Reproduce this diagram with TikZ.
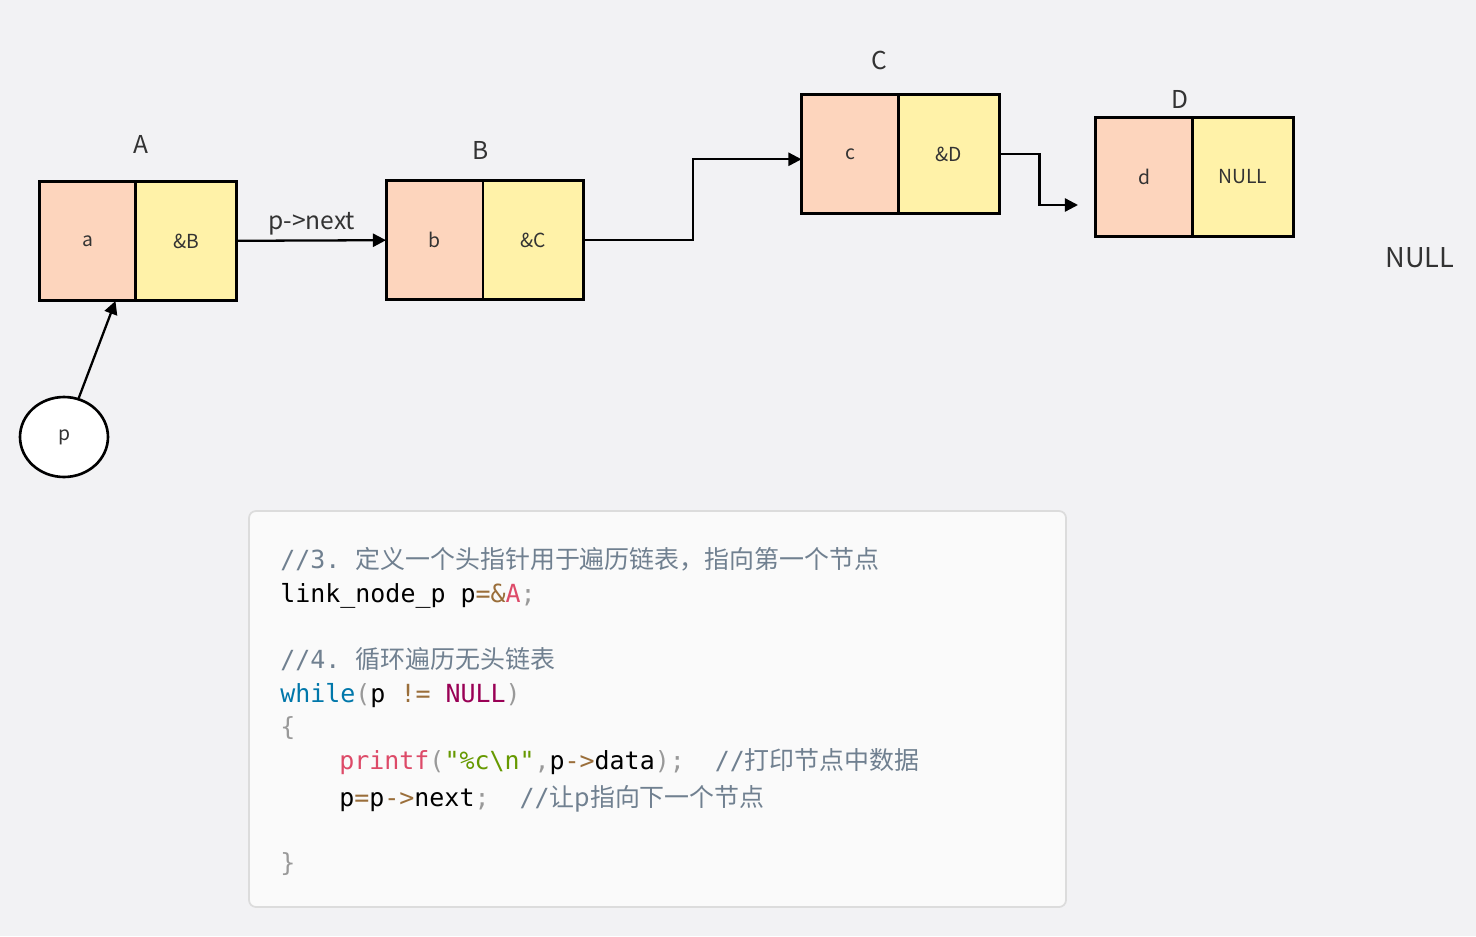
\documentclass[tikz,border=0pt]{standalone}
\usepackage{fontspec}
\setmainfont{Noto Sans CJK SC}
\setmonofont{DejaVu Sans Mono}
\newfontfamily\cjk{Noto Sans CJK SC}
\usepackage{xcolor}
\usetikzlibrary{arrows.meta, shapes.geometric, positioning}

\definecolor{bgcol}{HTML}{F2F2F4}
\definecolor{boxfill}{HTML}{FAFAFA}
\definecolor{boxline}{HTML}{DCDCDC}
\definecolor{datafill}{HTML}{FDD5BD}
\definecolor{nextfill}{HTML}{FFF2A8}
\definecolor{txtcol}{HTML}{333333}
\definecolor{cmtcol}{HTML}{708090}
\definecolor{kwcol}{HTML}{0077AA}
\definecolor{nullcol}{HTML}{990055}
\definecolor{opcol}{HTML}{9A6E3A}
\definecolor{fncol}{HTML}{DD4A68}
\definecolor{strcol}{HTML}{669900}
\definecolor{puncol}{HTML}{999999}

\begin{document}
\begin{tikzpicture}[x=0.02cm, y=-0.02cm,
  datacell/.style={draw, line width=1.7pt, fill=datafill, minimum width=1.94cm,
    minimum height=2.4cm, inner sep=0pt, outer sep=0pt,
    font=\fontsize{11}{13}\selectfont, text=txtcol},
  nextcell/.style={datacell, fill=nextfill, minimum width=2.02cm},
  lbl/.style={font=\fontsize{14}{16}\selectfont, text=txtcol},
  link/.style={line width=1.3pt, -{Triangle[length=7.5pt, width=7.5pt]}},
  codeline/.style={anchor=base west, inner sep=0pt, font=\ttfamily\fontsize{14.2}{17}\selectfont}]
  % Background and frame
  \useasboundingbox (0,0) rectangle (1476,936);
  \fill[bgcol] (0,0) rectangle (1476,936);
  \draw[boxline, fill=boxfill, rounded corners=4pt, line width=1pt] (249,511) rectangle (1066,907);
  % List nodes
  \node[datacell] (adata) at (87.5,241) {a};
  \node[nextcell, right=0pt of adata] (anext) {\&B};
  \node[datacell] (bdata) at (434.5,240) {b};
  \node[nextcell, right=0pt of bdata] (bnext) {\&C};
  \node[datacell] (cdata) at (850,154) {c};
  \node[nextcell, right=0pt of cdata] (cnext) {\&D};
  \node[datacell] (ddata) at (1144,177) {d};
  \node[nextcell, right=0pt of ddata] (dnext) {NULL};
  % Names
  \node[lbl] (la) at (141,144) {A};
  \node[lbl] (lb) at (481,150) {B};
  \node[lbl] (lc) at (879,60) {C};
  \node[lbl] (ld) at (1180,99) {D};
  \node[lbl, font=\fontsize{15.5}{18}\selectfont] (nullend) at (1420,258) {NULL};
  % Head pointer
  \node[draw, ellipse, line width=1.5pt, fill=white, minimum width=1.76cm, minimum height=1.6cm,
    inner sep=0pt, font=\fontsize{11}{13}\selectfont, text=txtcol] (p) at (64,437) {p};
  % Links
  \coordinate (cend) at (1078,205);
  \draw[link] (p) -- (adata.-65);
  \draw[link] (anext) -- node[lbl, above=-1pt] (nextlbl) {p->next} (bdata);
  \draw[link] (bnext.east) -- ++(109,0) |- ([yshift=-3pt]cdata.west);
  \draw[link] (cnext.east) -- ++(40,0) |- (cend);
  % Code
  \node[codeline, text=cmtcol] (code1) at (280,568) {//3. {\cjk 定义一个头指针用于遍历链表，指向第一个节点}};
  \node[codeline] (code2) at (280,602) {link\_node\_p p\textcolor{opcol}{=\&}\textcolor{fncol}{A}\textcolor{puncol}{;}};
  \node[codeline, text=cmtcol] (code3) at (280,668) {//4. {\cjk 循环遍历无头链表}};
  \node[codeline] (code4) at (280,702) {\textcolor{kwcol}{while}\textcolor{puncol}{(}p \textcolor{opcol}{!=} \textcolor{nullcol}{NULL}\textcolor{puncol}{)}};
  \node[codeline, text=puncol] (code5) at (280,735) {\{};
  \node[codeline] (code6) at (339,769) {\textcolor{fncol}{printf}\textcolor{puncol}{(}\textcolor{strcol}{"\%c\textbackslash n"}\textcolor{puncol}{,}p\textcolor{opcol}{->}data\textcolor{puncol}{);}\ \ \textcolor{cmtcol}{//{\cjk 打印节点中数据}}};
  \node[codeline] (code7) at (339,806) {p\textcolor{opcol}{=}p\textcolor{opcol}{->}next\textcolor{puncol}{;}\ \ \textcolor{cmtcol}{//{\cjk 让p指向下一个节点}}};
  \node[codeline, text=puncol] (code8) at (280,871) {\}};
\end{tikzpicture}
\end{document}
